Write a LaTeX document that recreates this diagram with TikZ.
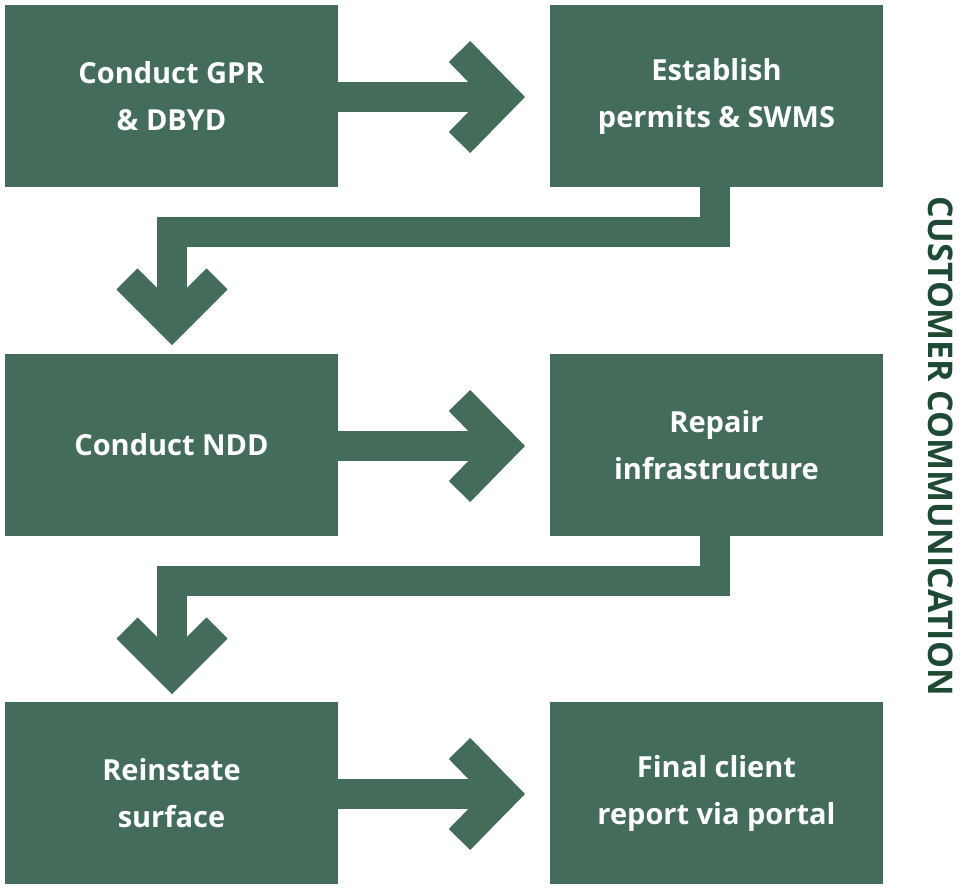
\documentclass[tikz,border=0pt]{standalone}
\usepackage{fontspec}
\setmainfont{Open Sans}
\definecolor{boxg}{HTML}{446C5B}
\definecolor{darkg}{HTML}{1E4A34}
\begin{document}
\begin{tikzpicture}[x=1pt,y=-1pt,
  box/.style={fill=boxg,draw=none,minimum width=333pt,minimum height=182pt,inner sep=0pt,text=white,align=center,font=\bfseries\fontsize{29}{47}\selectfont},
  conn/.style={draw=boxg,line width=30pt,line join=miter,line cap=butt}]
\useasboundingbox (0,0) rectangle (962,890);
\node[box] (a) at (171.5,96) {Conduct GPR\\\& DBYD};
\node[box] (b) at (716.5,96) {Establish\\permits \& SWMS};
\node[box] (c) at (171.5,445) {Conduct NDD};
\node[box] (d) at (716.5,445) {Repair\\infrastructure};
\node[box] (e) at (171.5,793) {Reinstate\\surface};
\node[box] (f) at (716.5,793) {Final client\\report via portal};
\foreach \s/\y in {a/97,c/446,e/794}{
  \coordinate (t\s) at (504,\y);
  \draw[conn] (\s.east|-t\s) -- (500,\y);
  \draw[conn] (459.5,\y-45.5) -- (t\s) -- (459.5,\y+45.5);
}
\foreach \s/\y/\t in {b/232/c,d/581/e}{
  \coordinate (k1\s) at (715,\y);
  \coordinate (k2\s) at (172,\y);
  \coordinate (tip\s) at (172,\y+92);
  \draw[conn] (715,\y-46) -- (k1\s) -- (k2\s) -- (172,\y+88);
  \draw[conn] (127,\y+47) -- (tip\s) -- (217,\y+47);
}
\node[rotate=-90,text=darkg,font=\bfseries\fontsize{34}{40}\selectfont] (cc) at (941,446) {CUSTOMER COMMUNICATION};
\end{tikzpicture}
\end{document}
